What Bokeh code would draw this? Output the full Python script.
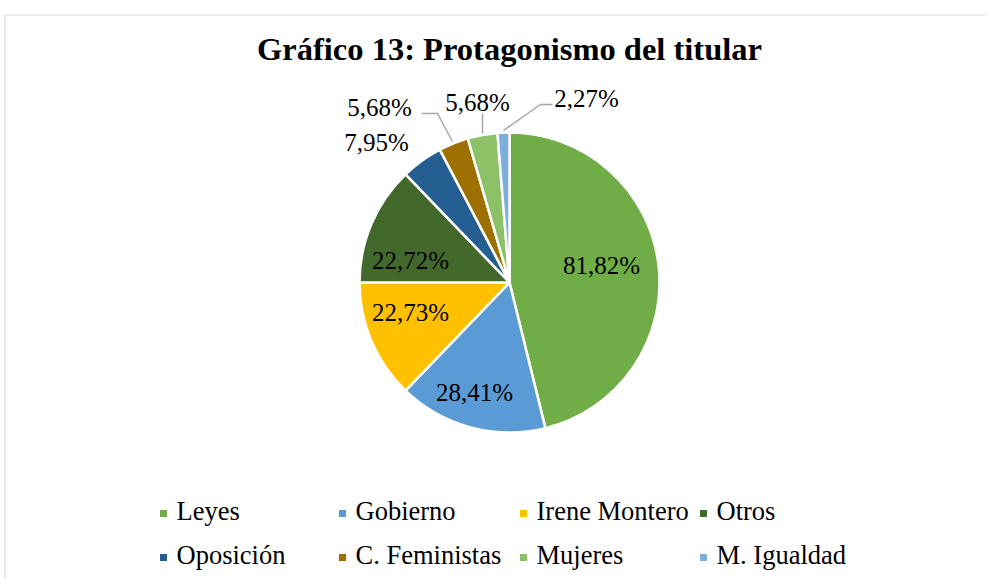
import math
from bokeh.plotting import figure
from bokeh.models import Range1d, ColumnDataSource
from bokeh.core.properties import value
from bokeh.embed import file_html
from bokeh.resources import INLINE

# ---- data ----
categories = ["Leyes", "Gobierno", "Irene Montero", "Otros",
              "Oposición", "C. Feministas", "Mujeres", "M. Igualdad"]
values = [81.82, 28.41, 22.73, 22.72, 7.95, 5.68, 5.68, 2.27]
labels = ["81,82%", "28,41%", "22,73%", "22,72%", "7,95%", "5,68%", "5,68%", "2,27%"]
colors = ["#70AD47", "#5B9BD5", "#FFC000", "#43682B",
          "#255E91", "#9E7000", "#8CC168", "#7CAFDD"]
title = "Gráfico 13: Protagonismo del titular"

# ---- layout (image pixel coordinates, y measured downward) ----
W, H = 985, 578
def Y(y):
    return H - y
def X(x):
    return x

FONT = "Liberation Serif"
BASE_FIX = 0.42  # baseline correction, in em

def TY(y, size):
    # target baseline y (pixels, downward) -> data y
    return Y(y - BASE_FIX * size)

p = figure(width=W, height=H, output_backend="svg", toolbar_location=None,
           x_range=Range1d(0, W), y_range=Range1d(0, H),
           x_axis_location=None, y_axis_location=None, min_border=0,
           outline_line_color=None, tools="")
p.grid.visible = False
p.background_fill_color = "white"
p.border_fill_color = "white"

# chart border
p.line(x=[X(4.5), X(4.5), X(1000)], y=[Y(600), Y(14.5), Y(14.5)],
       line_color="#D9D9D9", line_width=1.2)

# ---- pie ----
cx, cy, r = 509, 282, 150
total = sum(values)
starts, ends = [], []
acc = 0.0
for v in values:
    starts.append(math.pi / 2 - 2 * math.pi * acc / total)
    acc += v
    ends.append(math.pi / 2 - 2 * math.pi * acc / total)
src = ColumnDataSource(dict(start=starts, end=ends, color=colors, cat=categories))
p.wedge(x=X(cx), y=Y(cy), radius=r, start_angle="start", end_angle="end",
        direction="clock", fill_color="color", line_color="white",
        line_width=2.5, source=src)

# ---- data labels (pixel positions of label baselines) ----
LS = 25
label_pos = [(601, 275), (474, 402), (410, 322), (410, 270),
             (376, 152), (379, 117), (477, 112), (586, 108)]
p.text(x=[X(a) for a, b in label_pos], y=[TY(b, LS) for a, b in label_pos],
       text=labels, text_font=value(FONT), text_font_size=f"{LS}px",
       text_color="black", text_align="center", text_baseline="alphabetic")

# leader lines
leaders = [
    [(421, 113), (437, 113), (452, 141)],
    [(482, 113), (482, 133)],
    [(552, 104), (540, 104), (503, 130)],
]
for seg in leaders:
    p.line(x=[X(a) for a, b in seg], y=[Y(b) for a, b in seg],
           line_color="#A6A6A6", line_width=1.5)

# ---- title ----
TS = 32.5
p.text(x=[X(509)], y=[TY(62, TS)], text=[title], text_font=value(FONT),
       text_font_size=f"{TS}px", text_font_style="bold", text_color="black",
       text_align="center", text_baseline="alphabetic")

# ---- legend ----
GS = 26.5
col_x = [160, 339, 520, 700]
row_y = [522, 566]
lx, ly, tx, ty = [], [], [], []
for i, cat in enumerate(categories):
    c = col_x[i % 4]
    rw = row_y[i // 4]
    lx.append(X(c + 3)); ly.append(Y(rw - 9))
    tx.append(X(c + 16)); ty.append(TY(rw, GS))
p.scatter(x=lx, y=ly, marker="square", size=7, fill_color=colors, line_color=None)
p.text(x=tx, y=ty, text=categories, text_font=value(FONT), text_font_size=f"{GS}px",
       text_color="black", text_align="left", text_baseline="alphabetic")

open("out.html", "w").write(file_html(p, INLINE))
